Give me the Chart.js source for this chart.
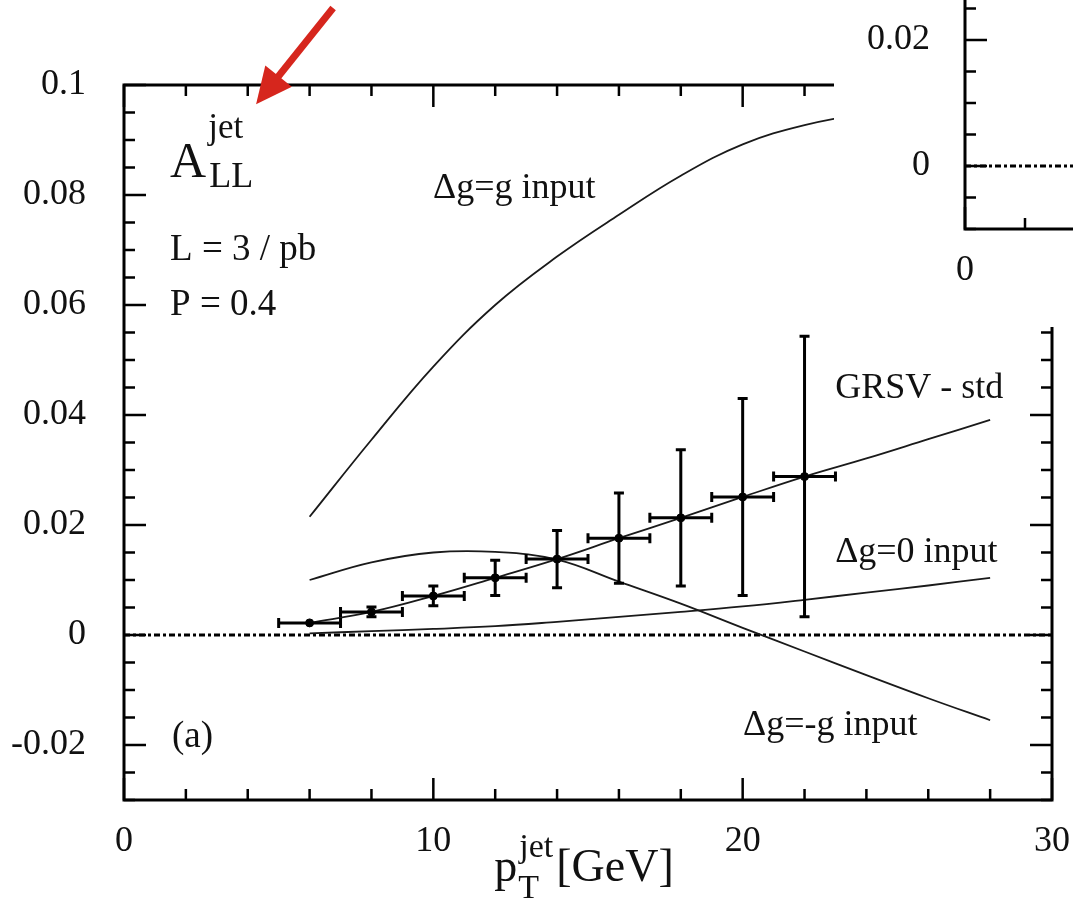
<!DOCTYPE html>
<html>
<head>
<meta charset="utf-8">
<script src="https://cdn.jsdelivr.net/npm/chart.js@4.4.1/dist/chart.umd.min.js"></script>
<style>
  html, body { margin: 0; padding: 0; background: #fff; overflow: hidden; }
  #wrap { position: relative; width: 1073px; height: 901px; }
  #main { position: absolute; left: 0; top: 0; }
  #insetBox { position: absolute; left: 834px; top: 0; width: 239px; height: 327px; background: #fff; overflow: hidden; }
  #inset { position: absolute; left: 0; top: -40px; }
</style>
</head>
<body>
<div id="wrap">
  <canvas id="main" width="1073" height="901"></canvas>
  <div id="insetBox"><canvas id="inset" width="460" height="367"></canvas></div>
</div>
<script>
// simulated data points (bin centres, asymmetry, errors)
const binCenters = [6, 8, 10, 12, 14, 16, 18, 20, 22];
const asymData = [0.0022, 0.0042, 0.0071, 0.0104, 0.0138, 0.0176, 0.0213, 0.0251, 0.0288];
const asymErr = [0.0004, 0.0009, 0.0018, 0.0032, 0.0052, 0.0082, 0.0124, 0.0179, 0.0255];
const binHalfWidth = [1, 1, 1, 1, 1, 1, 1, 1, 1];

// theory curves
const curvePt = [6, 8, 10, 12, 14, 16, 18, 20, 22, 24, 26, 28];
const dgEqG = [0.0215, 0.0355, 0.0488, 0.0600, 0.0688, 0.0764, 0.0835, 0.0892, 0.0927, 0.0948, 0.0960, 0.0966];
const grsvStd = [0.0022, 0.0042, 0.0071, 0.0104, 0.0138, 0.0176, 0.0213, 0.0251, 0.0288, 0.0321, 0.0356, 0.0391];
const dgZero = [0.0003, 0.0007, 0.0011, 0.0016, 0.0024, 0.0033, 0.0042, 0.0052, 0.0064, 0.0077, 0.0090, 0.0104];
const dgMinusG = [0.0100, 0.0132, 0.0150, 0.0151, 0.0137, 0.0097, 0.0057, 0.0013, -0.0030, -0.0073, -0.0115, -0.0155];

const zeroLineX = [0, 30];
const xLabelValues = [0, 10, 20, 30];
const yLabelValues = [-0.02, 0, 0.02, 0.04, 0.06, 0.08, 0.1];

const curveLabels = ['\u0394g=g input', 'GRSV - std', '\u0394g=0 input', '\u0394g=-g input'];
const curveLabelAt = [[9.99, 0.0795], [22.99, 0.0431], [22.99, 0.0133], [20.01, -0.0182]];
const infoLines = ['L = 3 / pb', 'P = 0.4', '(a)'];
const infoAt = [[1.49, 0.0682], [1.49, 0.0582], [1.55, -0.0204]];

// inset (other panel, mostly cropped)
const insetZeroX = [0, 10];
const insetXLabels = [0];
const insetYLabels = [0, 0.02];

const FONT = '"Liberation Serif", "Times New Roman", serif';
Chart.defaults.font.family = FONT;
Chart.defaults.color = '#111';

const pts = (xs, ys) => xs.map((x, i) => ({x: x, y: ys[i]}));
const near = (v, list) => list.some(l => Math.abs(l - v) < 1e-9);
const fmt = v => String(parseFloat(v.toFixed(3)));
const isMajor = (v, step) => Math.abs(v / step - Math.round(v / step)) < 1e-6;

function curve(ys) {
  return {
    data: pts(curvePt, ys), showLine: true, pointRadius: 0,
    borderColor: '#1a1a1a', borderWidth: 1.8, tension: 0.4
  };
}

function zeroLine(xs) {
  return {
    data: pts(xs, xs.map(() => 0)), showLine: true, pointRadius: 0,
    borderColor: '#000', borderWidth: 3, borderDash: [6, 3, 3, 3]
  };
}

// frame with inward ticks on every side
const frameTicks = {
  id: 'frameTicks',
  afterDatasetsDraw(chart, args, opts) {
    const {ctx, chartArea: a, scales: {x, y}} = chart;
    ctx.save();
    ctx.strokeStyle = '#000';
    ctx.lineWidth = 2.5;
    ctx.beginPath();
    x.ticks.forEach(t => {
      const p = x.getPixelForValue(t.value);
      const len = isMajor(t.value, opts.xMajor) ? 22 : 11;
      ctx.moveTo(p, a.bottom); ctx.lineTo(p, a.bottom - len);
      ctx.moveTo(p, a.top); ctx.lineTo(p, a.top + len);
    });
    y.ticks.forEach(t => {
      const p = y.getPixelForValue(t.value);
      const len = isMajor(t.value, opts.yMajor) ? 22 : 11;
      ctx.moveTo(a.left, p); ctx.lineTo(a.left + len, p);
      ctx.moveTo(a.right, p); ctx.lineTo(a.right - len, p);
    });
    ctx.stroke();
    ctx.lineWidth = 3;
    ctx.strokeRect(a.left, a.top, a.right - a.left, a.bottom - a.top);
    ctx.restore();
  }
};

const errorBars = {
  id: 'errorBars',
  afterDatasetsDraw(chart) {
    const {ctx, scales: {x, y}} = chart;
    chart.data.datasets.forEach(ds => {
      if (!ds.errY) return;
      ctx.save();
      ctx.strokeStyle = '#000';
      ctx.lineWidth = 3;
      ds.data.forEach((d, i) => {
        const px = x.getPixelForValue(d.x), py = y.getPixelForValue(d.y);
        const x0 = x.getPixelForValue(d.x - ds.errX[i]), x1 = x.getPixelForValue(d.x + ds.errX[i]);
        const y0 = y.getPixelForValue(d.y - ds.errY[i]), y1 = y.getPixelForValue(d.y + ds.errY[i]);
        ctx.beginPath();
        ctx.moveTo(x0, py); ctx.lineTo(x1, py);
        ctx.moveTo(x0, py - 5); ctx.lineTo(x0, py + 5);
        ctx.moveTo(x1, py - 5); ctx.lineTo(x1, py + 5);
        if (y0 - y1 > 6) {
          ctx.moveTo(px, y0); ctx.lineTo(px, y1);
          ctx.moveTo(px - 5, y0); ctx.lineTo(px + 5, y0);
          ctx.moveTo(px - 5, y1); ctx.lineTo(px + 5, y1);
        }
        ctx.stroke();
      });
      ctx.restore();
    });
  }
};

function textAt(ctx, s, px, py, size) {
  ctx.font = size + 'px ' + FONT;
  ctx.fillText(s, px, py);
  return ctx.measureText(s).width;
}

const annotations = {
  id: 'annotations',
  afterDraw(chart) {
    const {ctx, chartArea: a, scales: {x, y}} = chart;
    ctx.save();
    ctx.fillStyle = '#111';
    ctx.textBaseline = 'alphabetic';
    ctx.textAlign = 'left';
    curveLabels.forEach((s, i) => textAt(ctx, s, x.getPixelForValue(curveLabelAt[i][0]), y.getPixelForValue(curveLabelAt[i][1]), 36));
    infoLines.forEach((s, i) => textAt(ctx, s, x.getPixelForValue(infoAt[i][0]), y.getPixelForValue(infoAt[i][1]), 37));

    // A_LL^jet
    const ax = x.getPixelForValue(1.49), ay = y.getPixelForValue(0.0833);
    const wA = textAt(ctx, 'A', ax, ay, 50);
    textAt(ctx, 'jet', ax + wA + 2, ay - 39, 35);
    textAt(ctx, 'LL', ax + wA + 3, ay + 10, 36);

    // x axis title p_T^jet [GeV]
    ctx.font = '46px ' + FONT;
    const wp = ctx.measureText('p').width, wg = ctx.measureText('[GeV]').width;
    ctx.font = '34px ' + FONT;
    const wj = ctx.measureText('jet').width;
    const total = wp + 2 + wj + 3 + wg;
    const tx = (a.left + a.right) / 2 - 4 - total / 2, ty = 881;
    textAt(ctx, 'p', tx, ty, 46);
    textAt(ctx, 'jet', tx + wp + 2, ty - 24, 34);
    textAt(ctx, 'T', tx + wp + 1, ty + 17, 34);
    textAt(ctx, '[GeV]', tx + wp + 2 + wj + 3, ty, 46);

    // red arrow pointing at the asymmetry label
    const t0x = x.getPixelForValue(6.76), t0y = y.getPixelForValue(0.114);
    const t1x = x.getPixelForValue(4.27), t1y = y.getPixelForValue(0.0965);
    const dx = t1x - t0x, dy = t1y - t0y, L = Math.hypot(dx, dy);
    const ux = dx / L, uy = dy / L, head = 36, half = 17;
    const bx = t1x - ux * head, by = t1y - uy * head;
    ctx.strokeStyle = '#d6261d';
    ctx.fillStyle = '#d6261d';
    ctx.lineWidth = 7;
    ctx.beginPath();
    ctx.moveTo(t0x, t0y); ctx.lineTo(bx + ux * 4, by + uy * 4);
    ctx.stroke();
    ctx.beginPath();
    ctx.moveTo(t1x, t1y);
    ctx.lineTo(bx - uy * half, by + ux * half);
    ctx.lineTo(bx + uy * half, by - ux * half);
    ctx.closePath();
    ctx.fill();
    ctx.restore();
  }
};

// keep the plot area exactly where the layout padding puts it
function fixX(h) {
  return s => { s.height = h; s.paddingLeft = 0; s.paddingRight = 0; };
}
function fixY(w) {
  return s => { s.width = w; s.paddingTop = 0; s.paddingBottom = 0; };
}

function axes(xMin, xMax, yMin, yMax, xLabels, yLabels, xH, yW, yPad) {
  return {
    x: {
      type: 'linear', min: xMin, max: xMax,
      grid: { display: false, drawTicks: false },
      border: { display: false },
      ticks: {
        stepSize: 2, autoSkip: false, maxRotation: 0, padding: 20,
        font: { size: 36 }, color: '#111',
        callback: v => near(v, xLabels) ? fmt(v) : ''
      },
      afterFit: fixX(xH)
    },
    y: {
      type: 'linear', min: yMin, max: yMax,
      grid: { display: false, drawTicks: false },
      border: { display: false },
      ticks: {
        stepSize: 0.005, autoSkip: false, padding: yPad,
        font: { size: 36 }, color: '#111',
        callback: v => near(v, yLabels) ? fmt(v) : ''
      },
      afterFit: fixY(yW)
    }
  };
}

new Chart(document.getElementById('main'), {
  type: 'scatter',
  data: {
    datasets: [
      curve(dgEqG),
      curve(grsvStd),
      curve(dgZero),
      curve(dgMinusG),
      zeroLine(zeroLineX),
      {
        data: pts(binCenters, asymData), errY: asymErr, errX: binHalfWidth,
        showLine: false, pointRadius: 4, backgroundColor: '#000', borderColor: '#000'
      }
    ]
  },
  options: {
    responsive: false,
    animation: false,
    devicePixelRatio: 1,
    layout: { padding: { top: 85, right: 21, left: 0, bottom: 0 } },
    plugins: {
      legend: { display: false },
      tooltip: { enabled: false },
      frameTicks: { xMajor: 10, yMajor: 0.02 }
    },
    scales: axes(0, 30, -0.03, 0.1, xLabelValues, yLabelValues, 101, 124, 38)
  },
  plugins: [frameTicks, errorBars, annotations]
});

// partly visible neighbouring panel
new Chart(document.getElementById('inset'), {
  type: 'scatter',
  data: { datasets: [zeroLine(insetZeroX)] },
  options: {
    responsive: false,
    animation: false,
    devicePixelRatio: 1,
    layout: { padding: { top: 17, right: 29, left: 0, bottom: 0 } },
    plugins: {
      legend: { display: false },
      tooltip: { enabled: false },
      frameTicks: { xMajor: 10, yMajor: 0.02 }
    },
    scales: axes(0, 10, -0.01, 0.03, insetXLabels, insetYLabels, 98, 131, 35)
  },
  plugins: [frameTicks]
});
</script>
</body>
</html>
